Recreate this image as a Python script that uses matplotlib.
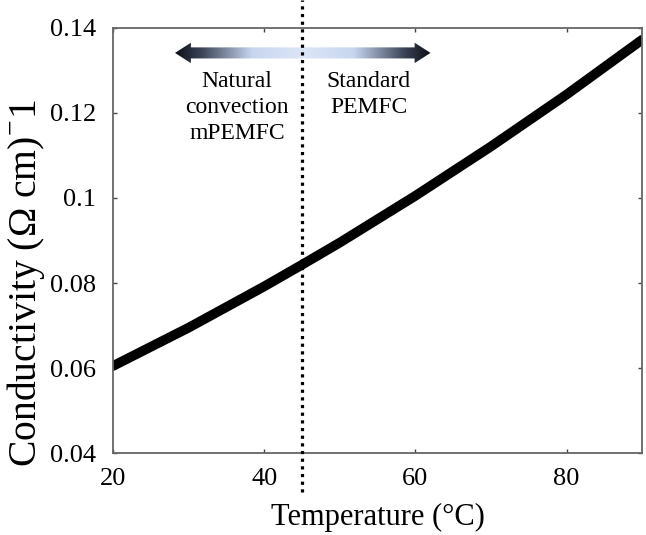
import matplotlib
matplotlib.use('agg')
import matplotlib.pyplot as plt
from matplotlib.patches import Polygon
from matplotlib.colors import LinearSegmentedColormap
import numpy as np

# values
temperature = [20, 30, 40, 45, 50, 60, 70, 80, 90]
conductivity = [0.0605, 0.0695, 0.0792, 0.0843, 0.0895, 0.1005, 0.1121, 0.1243, 0.1372]
boundary_temp = 45
xticks = [20, 40, 60, 80]
yticks = [0.04, 0.06, 0.08, 0.1, 0.12, 0.14]
ytick_labels = ['0.04', '0.06', '0.08', '0.1', '0.12', '0.14']
left_text = 'Natural\nconvection\nmPEMFC'
right_text = 'Standard\nPEMFC'

plt.rcParams['font.family'] = ['Liberation Serif', 'DejaVu Serif']
plt.rcParams['mathtext.fontset'] = 'custom'
plt.rcParams['mathtext.rm'] = 'Liberation Serif'

fig = plt.figure(figsize=(6.46, 5.35), dpi=100)
ax = fig.add_axes([0.175, 0.153, 0.819, 0.795])

ax.plot(temperature, conductivity, color='black', lw=7, solid_capstyle='round',
        solid_joinstyle='round')

ax.set_xlim(20, 90)
ax.set_ylim(0.04, 0.14)
ax.set_xticks(xticks)
ax.set_yticks(yticks)
ax.set_yticklabels(ytick_labels)
ax.tick_params(direction='in', length=3, width=1, colors='#444444',
               labelcolor='black', labelsize=19, top=True, right=True)
ax.tick_params(axis='y', pad=12)
ax.tick_params(axis='x', pad=11)
for sp in ax.spines.values():
    sp.set_color('#666666')
    sp.set_linewidth(1.3)

ax.set_xlabel('Temperature (°C)', fontsize=22, labelpad=9)
ax.set_ylabel(r'Conductivity ($\Omega$ cm)$^{\mathregular{-}}$1', fontsize=28.5)
ax.yaxis.set_label_coords(-0.124, 0.40)

# dotted boundary, running past the frame
trans = ax.get_xaxis_transform()
ax.plot([boundary_temp, boundary_temp], [-0.092, 1.066], transform=trans,
        color='black', ls=(0, (1, 1.4)), lw=2.3, clip_on=False, zorder=3)

# double headed gradient arrow
x0, x1, yc = 28.2, 62.0, 0.1341
sh, hh, hl = 0.0013, 0.0024, 2.1
arrow = Polygon([(x0, yc), (x0 + hl, yc + hh), (x0 + hl, yc + sh), (x1 - hl, yc + sh),
                 (x1 - hl, yc + hh), (x1, yc), (x1 - hl, yc - hh), (x1 - hl, yc - sh),
                 (x0 + hl, yc - sh), (x0 + hl, yc - hh)], closed=True,
                facecolor='none', edgecolor='none')
ax.add_patch(arrow)
cmap = LinearSegmentedColormap.from_list(
    'arr', [(0, '#0d0f18'), (0.1, '#3a4255'), (0.3, '#c7d5ee'), (0.5, '#dde6f7'),
            (0.7, '#c7d5ee'), (0.9, '#3a4255'), (1, '#0d0f18')])
grad = np.linspace(0, 1, 256).reshape(1, -1)
im = ax.imshow(grad, cmap=cmap, extent=[x0, x1, yc - hh, yc + hh], aspect='auto',
               interpolation='bilinear', zorder=2)
im.set_clip_path(arrow)

ax.text(36.4, 0.1298, left_text, ha='center', va='top', fontsize=17, linespacing=1.3)
ax.text(53.8, 0.1298, right_text, ha='center', va='top', fontsize=17, linespacing=1.3)

fig.savefig('out.png', dpi=100)
